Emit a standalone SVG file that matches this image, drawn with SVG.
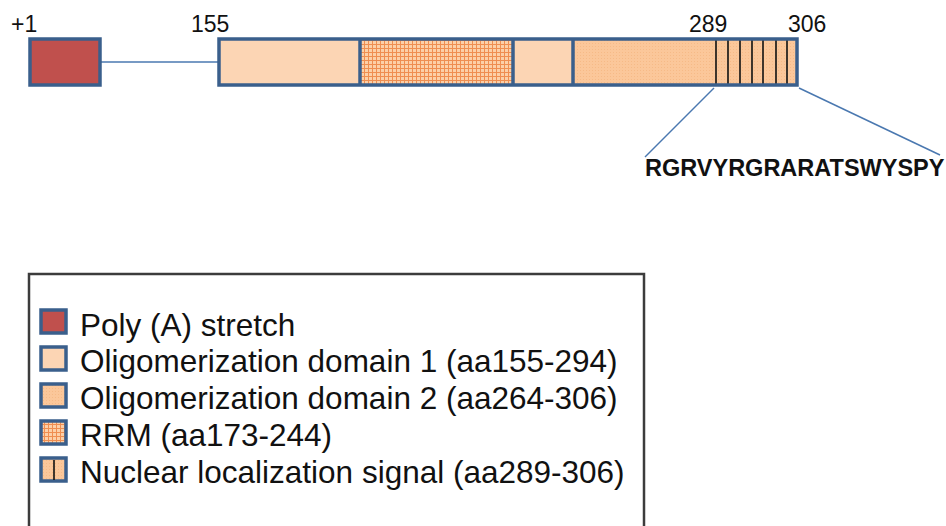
<svg xmlns="http://www.w3.org/2000/svg" width="946" height="526" viewBox="0 0 946 526">
<defs>
<pattern id="grid" width="4" height="4" patternUnits="userSpaceOnUse">
<rect width="4" height="4" fill="#fcd0a8"/>
<path d="M0 0.5H4M0.5 0V4" stroke="#ec7d3a" stroke-width="1" opacity="0.8"/>
</pattern>
<pattern id="dots" width="3" height="3" patternUnits="userSpaceOnUse">
<rect width="3" height="3" fill="#fbc79a"/>
<rect x="1" y="1" width="1" height="1" fill="#f4b07a" opacity="0.6"/>
</pattern>
<style>
.num{font-family:"Liberation Sans",Arial,sans-serif;font-size:23px;fill:#111}
.seq{font-family:"Liberation Sans",Arial,sans-serif;font-size:23.5px;font-weight:bold;fill:#111}
.leg{font-family:"Liberation Sans",Arial,sans-serif;font-size:31.5px;fill:#111}
.box{stroke:#3a5f8c;stroke-width:3.5}
.sq{stroke:#3a5f8c;stroke-width:3.5}
.conn{stroke:#4a78b0;stroke-width:1.5;fill:none}
.nls{stroke:#111;stroke-width:1.6}
.light{fill:#fcd5b4}
</style>
</defs>
<g id="connectors">
<line class="conn" x1="101" y1="62" x2="219" y2="62"/>
<line class="conn" x1="714" y1="88" x2="645" y2="157"/>
<line class="conn" x1="799" y1="88" x2="940" y2="155"/>
</g>
<g id="polyA">
<rect class="box" x="30" y="39" width="70" height="46" fill="#c0504d"/>
<text class="num" x="11" y="32">+1</text>
</g>
<g id="protein">
<rect x="219" y="39" width="141" height="46" class="light"/>
<rect x="360" y="39" width="153" height="46" fill="url(#grid)"/>
<rect x="513" y="39" width="60" height="46" class="light"/>
<rect x="573" y="39" width="224" height="46" fill="url(#dots)"/>
<line class="nls" x1="716" y1="39" x2="716" y2="85"/>
<line class="nls" x1="728" y1="39" x2="728" y2="85"/>
<line class="nls" x1="740" y1="39" x2="740" y2="85"/>
<line class="nls" x1="752" y1="39" x2="752" y2="85"/>
<line class="nls" x1="763" y1="39" x2="763" y2="85"/>
<line class="nls" x1="776" y1="39" x2="776" y2="85"/>
<line class="nls" x1="787" y1="39" x2="787" y2="85"/>
<line class="box" x1="360" y1="39" x2="360" y2="85" stroke-width="3"/>
<line class="box" x1="513" y1="39" x2="513" y2="85" stroke-width="3"/>
<line class="box" x1="573" y1="39" x2="573" y2="85" stroke-width="3"/>
<rect class="box" x="219" y="39" width="578" height="46" fill="none"/>
<text class="num" x="191" y="32">155</text>
<text class="num" x="689" y="32">289</text>
<text class="num" x="788" y="32">306</text>
</g>
<g id="nls-sequence">
<text class="seq" x="645" y="176">RGRVYRGRARATSWYSPY</text>
</g>
<g id="legend">
<rect x="29" y="274" width="615" height="270" fill="none" stroke="#3c3c3c" stroke-width="2.5"/>
<rect class="sq" x="41" y="310" width="25" height="23" fill="#c0504d"/>
<text class="leg" x="80" y="336">Poly (A) stretch</text>
<rect class="sq" x="41" y="347" width="25" height="23" fill="#fcd5b4"/>
<text class="leg" x="80" y="372">Oligomerization domain 1 (aa155-294)</text>
<rect class="sq" x="41" y="384" width="25" height="23" fill="url(#dots)"/>
<text class="leg" x="80" y="409">Oligomerization domain 2 (aa264-306)</text>
<rect class="sq" x="41" y="421" width="25" height="23" fill="url(#grid)"/>
<text class="leg" x="80" y="446">RRM (aa173-244)</text>
<rect class="sq" x="41" y="458" width="25" height="23" fill="url(#dots)"/>
<line x1="54" y1="460" x2="54" y2="480" stroke="#111" stroke-width="1.6"/>
<text class="leg" x="80" y="483">Nuclear localization signal (aa289-306)</text>
</g>
</svg>
